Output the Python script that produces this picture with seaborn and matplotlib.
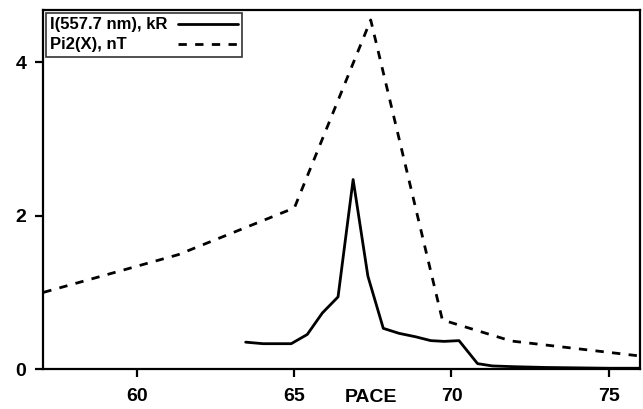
import matplotlib
matplotlib.use("Agg")
import matplotlib.pyplot as plt
import seaborn as sns
import pandas as pd

# data
pace_i = [63.45, 64.0, 64.9, 65.41, 65.89, 66.39, 66.87, 67.34, 67.83, 68.33,
          68.86, 69.34, 69.77, 70.24, 70.83, 71.3, 72.0, 73.0, 74.0, 75.0, 76.0]
intensity = [0.35, 0.33, 0.33, 0.45, 0.73, 0.94, 2.47, 1.21, 0.53, 0.465,
             0.42, 0.37, 0.36, 0.37, 0.07, 0.04, 0.03, 0.02, 0.015, 0.01, 0.01]
pace_p = [56.5, 61.3, 65.0, 67.43, 69.71, 71.9, 76.2]
pi2 = [0.94, 1.49, 2.10, 4.55, 0.64, 0.365, 0.16]
xticks = [60, 65, 70, 75]
yticks = [0, 2, 4]

sns.set_style("ticks")
plt.rcParams['font.family'] = ['Liberation Sans', 'DejaVu Sans']
plt.rcParams['font.weight'] = 'bold'
plt.rcParams['text.color'] = 'black'
plt.rcParams['axes.labelcolor'] = 'black'

fig = plt.figure(figsize=(6.43, 4.09), dpi=100)
ax = fig.add_axes([43/643, 40/409, 597/643, 359/409])

df_i = pd.DataFrame({"x": pace_i, "y": intensity})
df_p = pd.DataFrame({"x": pace_p, "y": pi2})
sns.lineplot(data=df_i, x="x", y="y", ax=ax, color="black", linewidth=2,
             label="I(557.7 nm), kR")
sns.lineplot(data=df_p, x="x", y="y", ax=ax, color="black", linewidth=2,
             dashes=False, label="Pi2(X), nT")
ax.lines[1].set_dashes([3, 3])

ax.set_xlim(57, 76)
ax.set_ylim(0, 4.68)
ax.set_xticks(xticks)
ax.set_yticks(yticks)
ax.set_ylabel("")
ax.set_xlabel("PACE", fontsize=14, fontweight="bold", color="black")
ax.xaxis.set_label_coords(0.55, -0.056)
ax.xaxis.label.set_va("top")
for s in ax.spines.values():
    s.set_linewidth(1.6)
    s.set_color("black")
    s.set_visible(True)
ax.tick_params(axis="x", length=6, width=1.6, labelsize=14, pad=7.5, colors="black")
ax.tick_params(axis="y", length=6, width=1.6, labelsize=14, pad=6, colors="black")
for lbl in ax.get_xticklabels() + ax.get_yticklabels():
    lbl.set_fontweight("bold")

leg = ax.legend(loc="upper left", markerfirst=False, handlelength=3.6,
                frameon=True, fancybox=False, borderaxespad=0.2,
                borderpad=0.25, labelspacing=0.3, handletextpad=0.6,
                prop={"size": 12, "weight": "bold"})
leg.get_frame().set_edgecolor("black")
leg.get_frame().set_linewidth(1.2)
leg.get_lines()[1].set_dashes([3, 3])

# left-align legend texts, keep handles right-aligned
fig.canvas.draw()
renderer = fig.canvas.get_renderer()
columns = leg._legend_handle_box.get_children()
for col in columns:
    rows = col.get_children()
    widths = [r.get_children()[0].get_bbox(renderer).width for r in rows]
    wmax = max(widths)
    scale = 72.0 / fig.dpi
    for r, w in zip(rows, widths):
        r.sep = r.sep + (wmax - w) * scale
    col.align = "left"

fig.savefig("out.png", dpi=100)
